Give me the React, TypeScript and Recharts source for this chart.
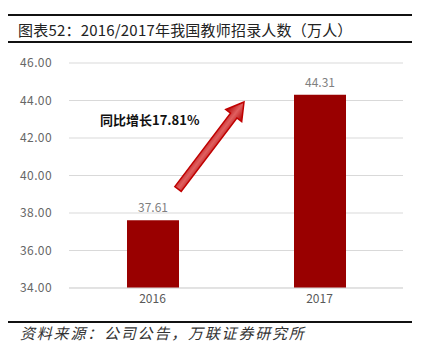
import React from 'react';
import { BarChart, Bar, XAxis, YAxis, CartesianGrid, LabelList } from 'recharts';

const years = ['2016', '2017'];
const teachers = [37.61, 44.31];
const yTicks = [34, 36, 38, 40, 42, 44, 46];

const data = years.map((y, i) => ({ year: y, value: teachers[i] }));

const font = '"Noto Sans CJK SC", "Noto Sans", sans-serif';

const Arrow = () => {
    const dx = 66, dy = -87;
    const len = Math.sqrt(dx * dx + dy * dy);
    const ang = (Math.atan2(dy, dx) * 180) / Math.PI;
    const head = 17;
    const pts = [
        [0, -4], [len - head, -4], [len - head, -10], [len, 0],
        [len - head, 10], [len - head, 4], [0, 4],
    ].map(p => p.join(',')).join(' ');
    return (
        <svg width={422} height={356} style={{ position: 'absolute', left: 0, top: 0, pointerEvents: 'none' }}>
            <defs>
                <linearGradient id="ag" x1="0" y1="0" x2="0" y2="1">
                    <stop offset="0" stopColor="#b00000" />
                    <stop offset="0.5" stopColor="#e06060" />
                    <stop offset="1" stopColor="#b00000" />
                </linearGradient>
            </defs>
            <g transform={`translate(178,189) rotate(${ang})`}>
                <polygon points={pts} fill="url(#ag)" stroke="#c00000" strokeWidth={1.5} strokeLinejoin="miter" />
            </g>
        </svg>
    );
};

export default function App() {
    return (
        <div style={{ position: 'absolute', left: 0, top: 0, width: 422, height: 356, background: '#fff', fontFamily: font }}>
            <div style={{ position: 'absolute', left: 8, top: 14, width: 404, height: 2, background: '#111' }} />
            <div style={{ position: 'absolute', left: 18, top: 20, fontSize: 15, color: '#222', lineHeight: '20px', whiteSpace: 'nowrap', letterSpacing: 0.2 }}>
                图表52：2016/2017年我国教师招录人数（万人）
            </div>
            <div style={{ position: 'absolute', left: 8, top: 41, width: 404, height: 2, background: '#111' }} />

            <div style={{ position: 'absolute', left: 0, top: 0 }}>
                <BarChart width={422} height={356} data={data} margin={{ top: 63, right: 19, left: 0, bottom: 38 }}>
                    <CartesianGrid horizontal vertical={false} stroke="#d9d9d9" strokeWidth={1} />
                    <XAxis dataKey="year" height={30} axisLine={{ stroke: '#d9d9d9' }} tickLine={false} tickSize={0} tickMargin={6}
                        tick={{ fill: '#595959', fontSize: 12, fontFamily: font }} />
                    <YAxis width={69} domain={[34, 46]} ticks={yTicks} axisLine={false} tickLine={false} tickSize={0} tickMargin={17}
                        tickFormatter={(v: number) => v.toFixed(2)} tick={{ fill: '#666', fontSize: 12, fontFamily: font, letterSpacing: 0.4 }} />
                    <Bar dataKey="value" fill="#990000" barSize={52} isAnimationActive={false}>
                        <LabelList dataKey="value" position="top" offset={8} fill="#7f7f7f" fontSize={12} fontFamily={font}
                            formatter={(v: number) => v.toFixed(2)} />
                    </Bar>
                </BarChart>
            </div>

            <Arrow />
            <div style={{ position: 'absolute', left: 100, top: 111, fontSize: 13, fontWeight: 'bold', color: '#111', whiteSpace: 'nowrap', lineHeight: '18px' }}>
                同比增长17.81%
            </div>

            <div style={{ position: 'absolute', left: 8, top: 321, width: 404, height: 2, background: '#111' }} />
            <div style={{ position: 'absolute', left: 20, top: 323, fontSize: 15, fontStyle: 'italic', color: '#333', whiteSpace: 'nowrap', lineHeight: '20px', letterSpacing: 1.8 }}>
                资料来源：公司公告，万联证券研究所
            </div>
        </div>
    );
}
